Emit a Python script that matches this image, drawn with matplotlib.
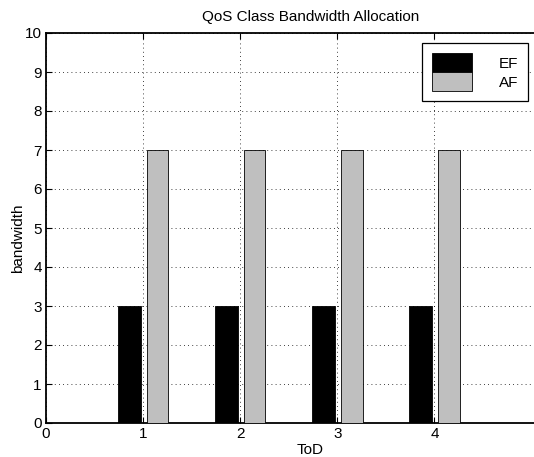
import numpy as np
import matplotlib
matplotlib.use('Agg')
import matplotlib.pyplot as plt

plt.rcParams['font.family'] = ['Liberation Sans', 'DejaVu Sans']

# data
tod = [1, 2, 3, 4]
ef = [3, 3, 3, 3]
af = [7, 7, 7, 7]
classes = ['EF', 'AF']

fig = plt.figure(figsize=(5.34, 4.57), dpi=100)
# axes runs off the right edge of the figure (cropped like the original)
ax = fig.add_axes([46 / 534, 34 / 457, 0.99, 390 / 457])

x = np.array(tod)
ax.bar(x - 0.142, ef, width=0.236, color='black', edgecolor='black', linewidth=0.6,
       label=classes[0], zorder=3)
ax.bar(x + 0.149, af, width=0.222, color='#bfbfbf', edgecolor='black', linewidth=0.6,
       label=classes[1], zorder=3)

ax.set_xlim(0, 0.99 * 534 / 97.1)
ax.set_ylim(0, 10)
ax.set_xticks(range(0, 5))
ax.set_yticks(range(0, 11))
ax.grid(True, linestyle=(0, (1, 4)), color='black', linewidth=0.6)
ax.set_axisbelow(True)
ax.tick_params(direction='in', length=4, width=0.8, labelsize=11, pad=3,
               top=True, right=False)
ax.spines['right'].set_visible(False)
for s in ax.spines.values():
    s.set_linewidth(1.3)

ax.set_title('QoS Class Bandwidth Allocation', fontsize=11, pad=9)
ax.set_xlabel('ToD', fontsize=11, labelpad=1)
ax.set_ylabel('bandwidth', fontsize=11)
ax.yaxis.set_label_coords(-0.04, 0.474)

fig.legend(loc='upper left', bbox_to_anchor=(422 / 534, 1 - 43 / 457),
           fontsize=11, frameon=True, fancybox=False, framealpha=1,
           edgecolor='black', borderpad=0.65, borderaxespad=0,
           labelspacing=0.0, handlelength=2.6, handleheight=1.55,
           handletextpad=1.8)
fig.legends[0].get_frame().set_linewidth(0.9)

fig.savefig('out.png', dpi=100)
